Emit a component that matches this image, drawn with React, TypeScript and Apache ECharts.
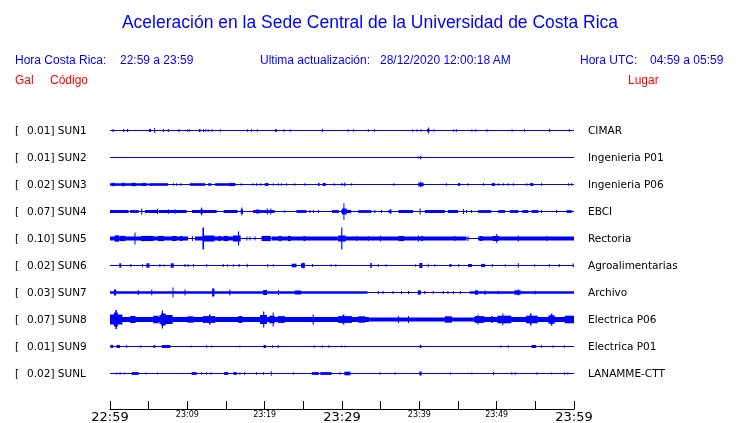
import React, { useEffect, useRef } from "react";
import * as echarts from "echarts";

// ---------- data ----------
const TITLE = "Aceleración en la Sede Central de la Universidad de Costa Rica";
const SCALES = ["0.01", "0.01", "0.02", "0.07", "0.10", "0.02", "0.03", "0.07", "0.01", "0.02"];
const CODES = ["SUN1", "SUN2", "SUN3", "SUN4", "SUN5", "SUN6", "SUN7", "SUN8", "SUN9", "SUNL"];
const PLACES = [
  "CIMAR", "Ingenieria P01", "Ingenieria P06", "EBCI", "Rectoria",
  "Agroalimentarias", "Archivo", "Electrica P06", "Electrica P01", "LANAMME-CTT",
];
// minutes after 22:59, one label per 5-minute tick
const TICK_LABELS = ["22:59", "", "23:09", "", "23:19", "", "23:29", "", "23:39", "", "23:49", "", "23:59"];
const MAJOR_TICKS = [0, 30, 60];

// bursts: [minute, halfAmplitude] or [startMinute, endMinute, halfAmplitude]
const SUN1 = [
  [0.4, 0.5, 1.5], [1.7, 1.85, 1.5], [2.2, 2.35, 1.5], [5.05, 5.3, 1.5], [5.78, 2.5], [6.9, 1.5], [7.54, 1.5],
  [8.92, 1.5], [10.0, 1.3], [10.26, 1.3], [11.5, 11.7, 1.5], [12.1, 1.5], [12.37, 1.3], [12.7, 1.3], [13.2, 1.3],
  [14.27, 1.3], [17.76, 1.3], [18.3, 1.3], [19.05, 1.3], [21.35, 21.55, 1.5], [22.5, 1.3], [23.3, 1.3], [27.46, 1.5],
  [30.8, 1.3], [31.5, 1.3], [33.4, 1.3], [34.2, 1.3], [39.15, 39.25, 1.3], [39.7, 1.3], [40.2, 40.3, 1.3],
  [41.0, 41.3, 1.6], [41.2, 3], [41.9, 1.3], [44.45, 44.55, 1.3], [44.8, 1.3], [46.8, 1.3], [47.3, 1.3],
  [48.75, 1.3], [52.0, 1.3], [53.6, 1.3], [56.85, 56.95, 1.5], [59.4, 1.3],
];
const SUN2 = [[39.85, 39.95, 1.2], [40.1, 40.25, 1.8]];
const SUN3 = [
  [0, 4.9, 1.3], [0.3, 0.6, 1.7], [1.5, 1.9, 1.7], [2.8, 3.3, 1.7], [4.2, 4.6, 1.6], [5.0, 7.5, 1.3],
  [8.22, 1.3], [8.62, 1.3], [9.17, 1.3], [10.3, 12.3, 1.3], [12.7, 13.1, 1.3], [13.6, 16.2, 1.3], [15.5, 16.2, 1.6],
  [16.95, 1.3], [18.5, 1.3], [18.95, 1.3], [19.5, 1.3], [20.0, 20.5, 1.4], [21.1, 1.3], [21.75, 1.3], [22.2, 1.3],
  [22.85, 1.3], [23.9, 1.3], [25.2, 1.3], [26.9, 27.1, 1.4], [27.5, 27.9, 1.5], [29.0, 1.3], [29.9, 30.1, 1.3],
  [30.3, 30.45, 2], [31.25, 1.3], [36.7, 1.3], [39.85, 40.55, 1.8], [40.1, 40.25, 2.8], [43.5, 1.3], [45.0, 45.3, 1.4],
  [46.3, 1.3], [48.3, 1.3], [49.35, 49.8, 1.4], [50.2, 1.3], [50.85, 1.3], [51.5, 1.3], [52.15, 1.3], [53.9, 1.3],
  [54.3, 54.75, 1.4], [55.8, 1.3], [59.3, 1.3], [59.7, 1.3],
];
const SUN4 = [
  [0, 2.4, 1.5], [2.6, 3.7, 1.4], [4.1, 3], [4.5, 6.2, 1.5], [6.15, 2.5], [6.3, 9.9, 1.5], [7.55, 2.2], [8.4, 2.2],
  [10.6, 13.8, 1.5], [11.7, 12.0, 2.2], [11.85, 4], [14.7, 16.5, 1.5], [16.9, 17.2, 2.2], [17.05, 4],
  [18.5, 21.3, 1.4], [18.9, 19.3, 2], [20.35, 3], [20.8, 3], [22.6, 1.3], [24.1, 25.4, 1.4], [25.85, 1.4],
  [26.3, 1.4], [26.95, 1.4], [28.7, 29.6, 1.4], [29.9, 31.2, 1.6], [30.0, 30.6, 3], [30.25, 30.35, 8.3],
  [32.1, 33.8, 1.4], [34.25, 1.4], [35.1, 1.4], [36.0, 36.4, 1.4], [36.3, 2.5], [37.3, 39.2, 1.5], [40.1, 3],
  [40.7, 43.3, 1.5], [43.7, 45.0, 1.5], [45.7, 2.5], [46.1, 1.5], [46.75, 1.5], [47.6, 49.3, 1.4], [50.2, 51.1, 1.4],
  [51.7, 52.8, 1.4], [53.3, 54.1, 1.4], [54.5, 55.4, 1.4], [55.8, 1.4], [57.75, 1.4], [59.05, 59.7, 1.4],
];
const SUN5 = [
  [0, 10.1, 2], [0.6, 1.2, 3.2], [1.3, 2.0, 2.6], [3.23, 6], [4.0, 5.6, 2.6], [6.2, 7.0, 2.6], [8.0, 8.6, 2.5],
  [9.0, 9.4, 2.4], [10.65, 2.5], [11.0, 16.2, 2], [11.95, 12.15, 11], [12.0, 13.5, 3], [14.0, 14.3, 2.6],
  [14.7, 15.3, 2.6], [15.9, 16.9, 3], [16.55, 16.7, 7], [17.7, 2], [18.1, 2], [18.75, 2], [19.6, 20.8, 2.6],
  [20.9, 29.5, 2], [21.8, 22.2, 2.6], [23.0, 23.4, 2.6], [25.0, 25.3, 2.4], [29.5, 30.5, 3], [29.9, 30.05, 11],
  [30.5, 46.1, 2], [31.9, 2.5], [33.4, 2.5], [35.0, 3], [37.3, 38.0, 2.6], [39.9, 3], [40.2, 40.5, 2.5], [44.6, 2.5],
  [46.3, 2.5], [47.6, 60, 2], [47.8, 48.2, 2.4], [49.5, 50.3, 2.6], [50.0, 4.5], [52.8, 3], [56.5, 2.5],
];
const SUN6 = [
  [1.2, 1.45, 2.2], [2.7, 1.5], [4.2, 1.5], [4.7, 5.1, 2.2], [6.45, 1.5], [7.0, 1.3], [7.85, 8.25, 2.2], [9.7, 1.5],
  [10.1, 1.5], [10.8, 1.5], [12.5, 1.5], [14.65, 1.5], [15.2, 1.2], [15.95, 1.2], [16.7, 1.5], [17.75, 1.8],
  [20.4, 1.5], [21.1, 1.2], [23.5, 24.1, 1.8], [24.7, 25.2, 2.3], [25.05, 3], [26.2, 1.5], [28.6, 1.2], [29.2, 1.2],
  [33.65, 33.85, 2.5], [34.7, 1.5], [35.7, 1.3], [39.5, 1.2], [40.0, 40.4, 2.5], [41.15, 1.8], [42.0, 1.3],
  [43.9, 44.15, 1.5], [45.1, 1.5], [46.3, 46.8, 1.5], [48.0, 48.5, 1.6], [49.45, 1.5], [51.1, 1.2], [52.8, 2.2],
  [54.9, 1.2], [56.8, 1.5], [58.1, 1.5], [59.9, 2],
];
const SUN7 = [
  [0, 33.3, 1.3], [0.5, 0.8, 3], [3.65, 2.5], [5.4, 3], [8.15, 8.25, 5], [9.7, 3], [13.2, 13.5, 4], [15.5, 3],
  [19.8, 20.3, 2.5], [21.8, 2.5], [23.9, 24.7, 2], [34.7, 1.5], [35.3, 1.5], [36.6, 1.5], [37.7, 1.5], [38.6, 1.5],
  [39.8, 40.2, 2.2], [40.7, 1.5], [41.8, 1.5], [43.1, 1.5], [43.7, 1.5], [44.4, 1.5], [45.3, 1.5], [46.5, 60, 1.3],
  [47.2, 47.6, 2.2], [48.5, 2.2], [50.2, 1.8], [52.3, 53.1, 2.2], [52.8, 3], [55.0, 1.8],
];
const SUN8 = [
  [0, 33.5, 2.4], [33.5, 47, 2], [47, 60, 2.4], [0, 1.6, 5], [0.5, 1.0, 7], [0.7, 0.9, 9.5], [2.6, 3.3, 3.5],
  [5.6, 6.3, 3.8], [6.4, 8.1, 4.5], [6.6, 7.2, 6], [6.7, 6.85, 9], [10.0, 10.8, 3.2], [12.0, 13.6, 3.4],
  [12.8, 13.0, 5], [16.6, 17.1, 3.5], [19.4, 20.3, 4.5], [19.8, 19.95, 8], [20.6, 21.3, 3.8], [21.1, 21.15, 7],
  [21.7, 22.6, 3.4], [26.2, 26.35, 5], [29.5, 31.3, 3.4], [30.1, 30.3, 5], [32.1, 33.0, 3.2], [37.3, 3.5],
  [38.6, 3.5], [43.3, 44.2, 3.2], [47.2, 48.4, 3.4], [47.6, 47.7, 5], [49.3, 49.5, 3.6], [50.1, 51.9, 3.8],
  [50.8, 50.9, 6], [53.8, 55.3, 3.8], [54.3, 54.5, 6], [56.7, 57.5, 4.2], [57.0, 57.2, 6], [58.8, 60, 3.8],
];
const SUN9 = [
  [0.05, 0.4, 1.5], [0.85, 1.3, 1.5], [2.15, 1.2], [4.0, 1.2], [5.6, 5.85, 1.3], [6.7, 7.8, 1.5], [10.5, 1],
  [12.5, 1.2], [13.15, 1], [16.8, 1], [19.85, 20.15, 1.5], [21.0, 1.3], [21.75, 1.5], [26.4, 1.2], [27.45, 1.2],
  [28.3, 1.2], [29.95, 1], [30.4, 1], [40.05, 40.25, 1.5], [50.55, 1.2], [51.5, 1.3], [54.5, 55.1, 1.5],
  [55.8, 1.2], [57.3, 1.2], [58.75, 1.2],
];
const SUNL = [
  [0.85, 1], [1.3, 1.2], [1.85, 1], [2.8, 3.7, 1.4], [4.65, 1], [6.15, 1], [10.55, 11.2, 1.4], [11.85, 1.3],
  [12.5, 1.2], [13.05, 1.2], [14.75, 15.3, 1.4], [15.95, 16.4, 1.4], [16.8, 1.3], [17.4, 1.2], [18.95, 1.2],
  [19.85, 1.3], [20.85, 20.95, 2.2], [23.7, 1.2], [26.1, 27.0, 1.4], [27.2, 28.65, 1.4], [29.75, 1.3],
  [30.3, 31.1, 1.8], [34.9, 1.2], [36.85, 1.2], [40.0, 40.3, 2], [44.0, 1.2], [46.8, 1], [49.6, 1.5], [51.95, 1.2],
  [52.4, 1.2], [55.2, 1.2], [57.1, 1], [58.75, 1.2], [59.2, 1.2],
];
const TRACES = [SUN1, SUN2, SUN3, SUN4, SUN5, SUN6, SUN7, SUN8, SUN9, SUNL];

// ---------- layout ----------
const W = 740;
const H = 423;
const GRID_LEFT = 110;
const GRID_RIGHT = 166;
const GRID_TOP = 117;
const GRID_BOTTOM = 14;
const ROW_STEP = 27;
const ROW_FIRST = 13.5;
const Y_MAX = 292;
const BLUE = "#0000ff";
const RED = "#ff0000";
const HEAD_FONT = "'Liberation Sans', Arial, sans-serif";
const LABEL_FONT = "'DejaVu Sans', sans-serif";

const rowCenter = (r: number) => ROW_FIRST + r * ROW_STEP;

export default function App() {
  const ref = useRef<HTMLDivElement>(null);

  useEffect(() => {
    if (!ref.current) return;
    const chart = echarts.init(ref.current, undefined, { renderer: "svg" });

    const burstData: number[][] = [];
    TRACES.forEach((trace, r) => {
      trace.forEach((b) => {
        const s = b[0];
        const e = b.length === 3 ? b[1] : b[0];
        const a = b.length === 3 ? b[2] : b[1];
        burstData.push([s, e, a, r]);
      });
    });

    const baseSeries = TRACES.map((_, r) => ({
      type: "line",
      data: [[0, rowCenter(r)], [60, rowCenter(r)]],
      symbol: "none",
      lineStyle: { color: BLUE, width: 1 },
      silent: true,
      z: 2,
    }));

    const texts: any[] = [];
    const txt = (x: number, y: number, s: string, o: any = {}) =>
      texts.push({
        type: "text",
        x,
        y,
        silent: true,
        style: {
          text: s,
          fill: o.fill || "#000",
          font: o.font || `10.5px ${LABEL_FONT}`,
          textAlign: o.align || "left",
          textVerticalAlign: "middle",
        },
      });

    txt(W / 2, 22, TITLE, { fill: BLUE, font: `17.5px ${HEAD_FONT}`, align: "center" });
    const hf = `12px ${HEAD_FONT}`;
    txt(15, 60, "Hora Costa Rica:", { fill: BLUE, font: hf });
    txt(120, 60, "22:59 a 23:59", { fill: BLUE, font: hf });
    txt(260, 60, "Ultima actualización:", { fill: BLUE, font: hf });
    txt(380, 60, "28/12/2020 12:00:18 AM", { fill: BLUE, font: hf });
    txt(580, 60, "Hora UTC:", { fill: BLUE, font: hf });
    txt(650, 60, "04:59 a 05:59", { fill: BLUE, font: hf });
    txt(15, 80, "Gal", { fill: RED, font: hf });
    txt(50, 80, "Código", { fill: RED, font: hf });
    txt(628, 80, "Lugar", { fill: RED, font: hf });

    CODES.forEach((c, r) => {
      const y = GRID_TOP + rowCenter(r) - 0.5;
      txt(15, y, "[");
      txt(27, y, `${SCALES[r]}] ${c}`);
      txt(588, y, PLACES[r]);
    });

    chart.setOption({
      animation: false,
      grid: { left: GRID_LEFT, right: GRID_RIGHT, top: GRID_TOP, bottom: GRID_BOTTOM },
      xAxis: {
        type: "value",
        position: "bottom",
        min: 0,
        max: 60,
        interval: 5,
        axisLine: { show: true, onZero: false, lineStyle: { color: "#000", width: 1 } },
        axisTick: { show: true, inside: true, length: 8, lineStyle: { color: "#000", width: 1 } },
        splitLine: { show: false },
        axisLabel: {
          margin: 1,
          showMinLabel: true,
          showMaxLabel: true,
          hideOverlap: false,
          formatter: (v: number) => {
            const t = TICK_LABELS[Math.round(v / 5)];
            if (!t) return "";
            return MAJOR_TICKS.includes(Math.round(v)) ? `{big|${t}}` : `{small|${t}}`;
          },
          rich: {
            big: { fontFamily: LABEL_FONT, fontSize: 13, color: "#000" },
            small: { fontFamily: LABEL_FONT, fontSize: 8, color: "#000" },
          },
        },
      },
      yAxis: { type: "value", min: 0, max: Y_MAX, inverse: true, show: false },
      graphic: texts,
      series: [
        ...baseSeries,
        {
          type: "custom",
          data: burstData,
          silent: true,
          z: 3,
          renderItem: (params: any, api: any) => {
            const s = api.value(0);
            const e = api.value(1);
            const a = api.value(2);
            const c = rowCenter(api.value(3));
            const p1 = api.coord([s, c - a]);
            const p2 = api.coord([e, c + a]);
            const w = Math.max(1, p2[0] - p1[0]);
            const x = p2[0] - p1[0] < 1 ? p1[0] - 0.5 : p1[0];
            return {
              type: "rect",
              shape: { x, y: Math.min(p1[1], p2[1]), width: w, height: Math.abs(p2[1] - p1[1]) },
              style: { fill: BLUE },
            };
          },
        },
      ],
    });

    return () => chart.dispose();
  }, []);

  return <div ref={ref} style={{ position: "fixed", left: 0, top: 0, width: W, height: H }} />;
}
